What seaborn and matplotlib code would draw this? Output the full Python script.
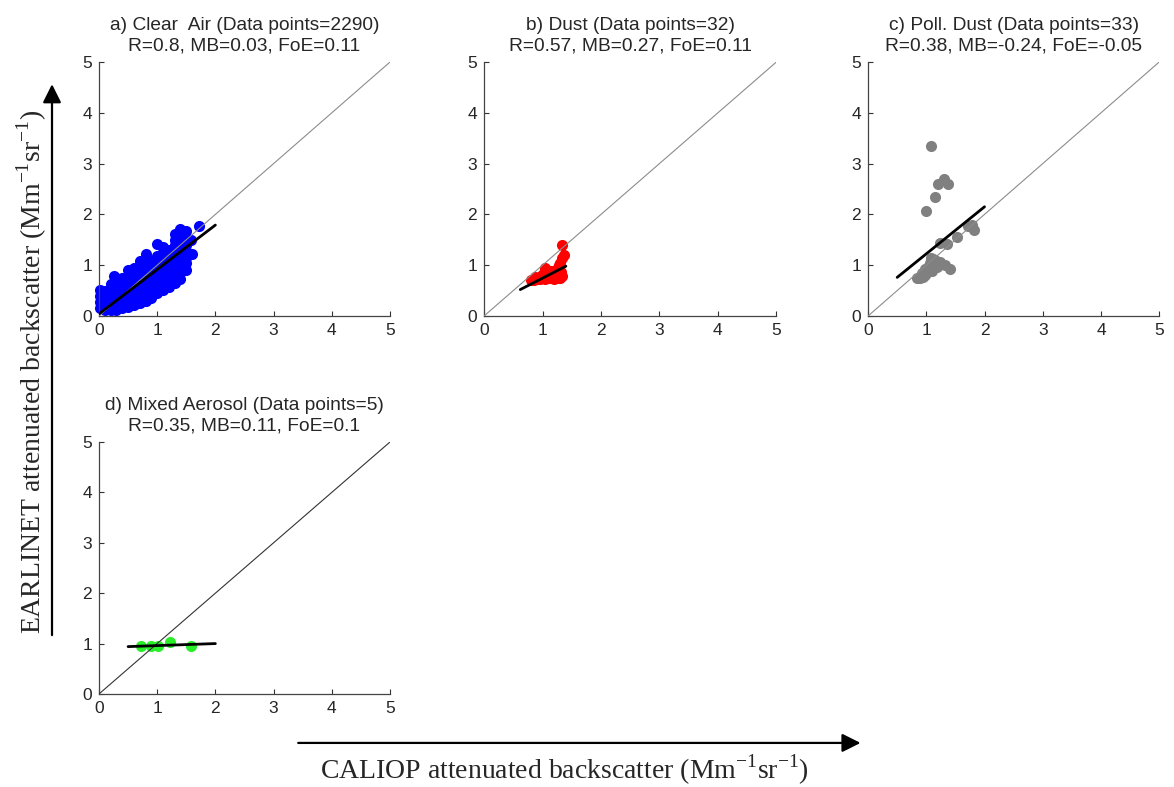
import numpy as np
import pandas as pd
import matplotlib
matplotlib.use("Agg")
import matplotlib.pyplot as plt
import seaborn as sns

# ---- data (CALIOP x, EARLINET y) ----
clear_x = [0.02, 0.02, 0.02, 0.02,
           0.10, 0.10, 0.10, 0.10,
           0.20, 0.20, 0.20, 0.20, 0.20, 0.25,
           0.30, 0.30, 0.30, 0.30, 0.30, 0.30,
           0.40, 0.40, 0.40, 0.40, 0.40, 0.40,
           0.50, 0.50, 0.50, 0.50, 0.50, 0.50, 0.50,
           0.60, 0.60, 0.60, 0.60, 0.60, 0.60, 0.60,
           0.70, 0.70, 0.70, 0.70, 0.70, 0.70, 0.70, 0.70,
           0.80, 0.80, 0.80, 0.80, 0.80, 0.80, 0.80, 0.80,
           0.90, 0.90, 0.90, 0.90, 0.90, 0.90, 0.90,
           1.00, 1.00, 1.00, 1.00, 1.00, 1.00, 1.00, 1.00,
           1.10, 1.10, 1.10, 1.10, 1.10, 1.10, 1.10, 1.10,
           1.20, 1.20, 1.20, 1.20, 1.20, 1.20, 1.20,
           1.30, 1.30, 1.30, 1.30, 1.30, 1.30, 1.30, 1.30, 1.30,
           1.40, 1.40, 1.40, 1.40, 1.40, 1.40, 1.40, 1.40, 1.40,
           1.50, 1.50, 1.50, 1.50, 1.50, 1.50, 1.50,
           1.58, 1.60, 1.72]
clear_y = [0.15, 0.28, 0.40, 0.52,
           0.12, 0.25, 0.38, 0.50,
           0.12, 0.25, 0.38, 0.50, 0.62, 0.79,
           0.12, 0.24, 0.36, 0.48, 0.60, 0.70,
           0.15, 0.27, 0.39, 0.51, 0.63, 0.75,
           0.18, 0.30, 0.42, 0.54, 0.66, 0.78, 0.90,
           0.22, 0.34, 0.46, 0.58, 0.70, 0.82, 0.94,
           0.26, 0.38, 0.50, 0.62, 0.74, 0.86, 0.98, 1.08,
           0.30, 0.42, 0.54, 0.66, 0.78, 0.90, 1.02, 1.22,
           0.36, 0.48, 0.60, 0.72, 0.84, 0.96, 1.08,
           0.45, 0.57, 0.69, 0.81, 0.93, 1.05, 1.18, 1.42,
           0.52, 0.64, 0.76, 0.88, 1.00, 1.12, 1.25, 1.35,
           0.58, 0.70, 0.82, 0.94, 1.06, 1.18, 1.30,
           0.65, 0.78, 0.90, 1.05, 1.18, 1.30, 1.40, 1.50, 1.62,
           0.72, 0.85, 0.98, 1.08, 1.20, 1.32, 1.45, 1.62, 1.72,
           0.90, 1.05, 1.15, 1.28, 1.40, 1.55, 1.68,
           1.50, 1.22, 1.77]

dust_x = [0.80, 0.85, 0.90, 0.95, 1.00, 1.05, 1.10, 1.15, 1.20, 1.25, 1.30, 1.33,
          0.88, 0.97, 1.03, 1.08, 1.12, 1.18, 1.22, 1.27, 1.31,
          1.00, 1.06, 1.14, 1.20, 1.25,
          1.05, 1.28, 1.30, 1.36, 1.33, 1.33]
dust_y = [0.70, 0.70, 0.72, 0.73, 0.74, 0.73, 0.75, 0.74, 0.72, 0.74, 0.75, 0.78,
          0.76, 0.78, 0.80, 0.85, 0.82, 0.80, 0.84, 0.80, 0.86,
          0.83, 0.90, 0.88, 0.86, 0.92,
          0.95, 1.00, 1.04, 1.20, 1.15, 1.40]

polldust_x = [1.08, 1.20, 1.31, 1.37, 1.15, 1.00, 1.72, 1.78, 1.82, 1.52, 1.24,
              1.36, 1.08, 1.15, 1.24, 1.18, 1.32, 1.41, 1.03, 0.98, 1.10, 0.92,
              0.84, 0.89, 0.95, 1.00, 1.11, 1.06, 1.12, 1.20, 0.97, 1.05, 1.25]
polldust_y = [3.35, 2.60, 2.69, 2.60, 2.35, 2.07, 1.78, 1.79, 1.69, 1.55, 1.43,
              1.42, 1.14, 1.10, 1.07, 0.97, 1.00, 0.92, 0.97, 0.92, 0.88, 0.85,
              0.75, 0.75, 0.77, 0.84, 1.00, 1.04, 1.12, 1.05, 0.80, 0.92, 1.02]

mixed_x = [0.72, 0.90, 1.02, 1.22, 1.58]
mixed_y = [0.96, 0.96, 0.95, 1.03, 0.96]

# regression line end points
fit_x = {"a": [0.0, 2.0], "b": [0.62, 1.40], "c": [0.5, 2.0], "d": [0.5, 2.0]}
fit_y = {"a": [0.04, 1.79], "b": [0.52, 0.98], "c": [0.76, 2.15], "d": [0.94, 1.00]}

titles = {
    "a": "a) Clear  Air (Data points=2290)\nR=0.8, MB=0.03, FoE=0.11",
    "b": "b) Dust (Data points=32)\nR=0.57, MB=0.27, FoE=0.11",
    "c": "c) Poll. Dust (Data points=33)\nR=0.38, MB=-0.24, FoE=-0.05",
    "d": "d) Mixed Aerosol (Data points=5)\nR=0.35, MB=0.11, FoE=0.1",
}
ticks = [0, 1, 2, 3, 4, 5]

sns.set_style("ticks")
plt.rcParams["font.family"] = ["Liberation Sans", "DejaVu Sans"]
plt.rcParams["xtick.direction"] = "in"
plt.rcParams["ytick.direction"] = "in"
plt.rcParams["mathtext.fontset"] = "custom"
plt.rcParams["mathtext.rm"] = "Liberation Serif"

fig = plt.figure(figsize=(11.74, 7.87), dpi=100)

panels = [
    ("a", clear_x, clear_y, "#0000ff", "#8c8c8c", [0.0843, 0.5985, 0.2479, 0.3227]),
    ("b", dust_x, dust_y, "#ff0000", "#8c8c8c", [0.4123, 0.5985, 0.2490, 0.3227]),
    ("c", polldust_x, polldust_y, "#808080", "#8c8c8c", [0.7394, 0.5985, 0.2480, 0.3227]),
    ("d", mixed_x, mixed_y, "#2aee2a", "#333333", [0.0843, 0.1182, 0.2479, 0.3202]),
]

for key, xs, ys, color, diag_color, rect in panels:
    ax = fig.add_axes(rect)
    df = pd.DataFrame({"caliop": xs, "earlinet": ys})
    sns.scatterplot(data=df, x="caliop", y="earlinet", ax=ax, color=color,
                    s=64, linewidth=0, zorder=2, clip_on=False)
    # 1:1 line and linear fit
    ax.plot(ticks, ticks, color=diag_color, lw=0.8, zorder=3)
    ax.plot(fit_x[key], fit_y[key], color="black", lw=2, zorder=4)
    ax.set_xlim(0, 5)
    ax.set_ylim(0, 5)
    ax.set_xticks(ticks)
    ax.set_yticks(ticks)
    ax.tick_params(labelsize=12.5, length=3.5, width=0.8, pad=5, color="#333333")
    ax.set_xlabel("")
    ax.set_ylabel("")
    ax.set_title(titles[key], fontsize=13.8, pad=8, linespacing=1.3)
    sns.despine(ax=ax)
    for side in ["left", "bottom"]:
        ax.spines[side].set_color("#444444")
        ax.spines[side].set_linewidth(0.9)

# big axis arrows with labels
unit = r" (Mm$^{\mathregular{-1}}$sr$^{\mathregular{-1}}$)"
fig.axes[0].annotate("", xy=(0.0443, 0.893), xytext=(0.0443, 0.193),
                     xycoords="figure fraction", textcoords="figure fraction",
                     arrowprops=dict(arrowstyle="-|>", lw=1.6, color="black",
                                     mutation_scale=28, shrinkA=0, shrinkB=0),
                     annotation_clip=False)
fig.axes[0].annotate("", xy=(0.733, 0.056), xytext=(0.254, 0.056),
                     xycoords="figure fraction", textcoords="figure fraction",
                     arrowprops=dict(arrowstyle="-|>", lw=1.6, color="black",
                                     mutation_scale=28, shrinkA=0, shrinkB=0),
                     annotation_clip=False)
fig.text(0.027, 0.527, "EARLINET attenuated backscatter" + unit, rotation=90,
         ha="center", va="center", fontsize=20, family="Liberation Serif")
fig.text(0.481, 0.022, "CALIOP attenuated backscatter" + unit,
         ha="center", va="center", fontsize=20, family="Liberation Serif")

plt.savefig("out.png", dpi=100)
plt.close()
